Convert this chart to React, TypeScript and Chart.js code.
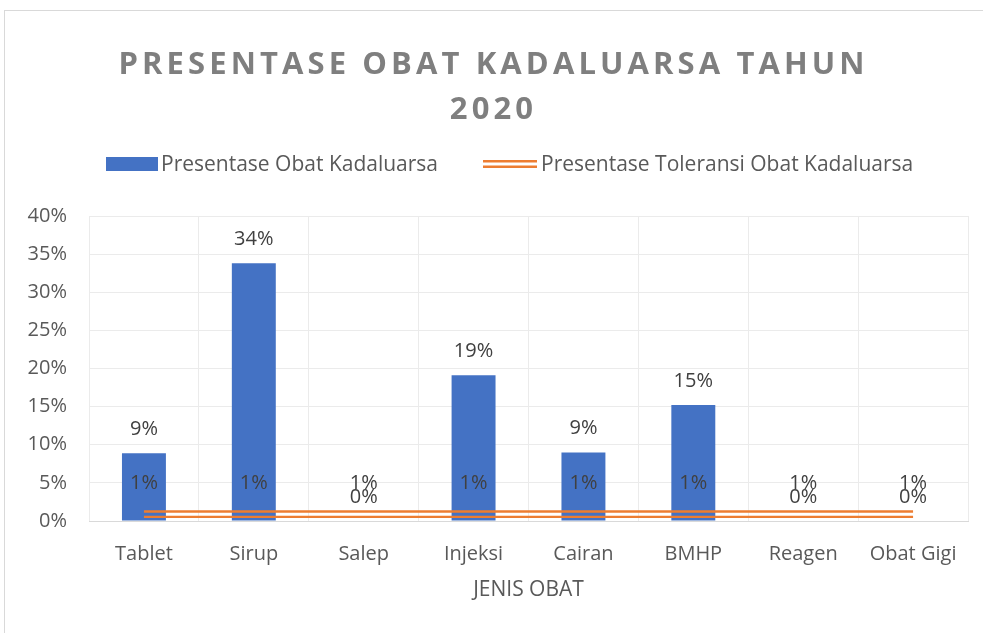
import React, { useEffect, useRef } from 'react';
import { Chart, registerables } from 'chart.js';

Chart.register(...registerables);

const TITLE_LINES = ['PRESENTASE OBAT KADALUARSA TAHUN', '2020'];
const CATEGORIES = ['Tablet', 'Sirup', 'Salep', 'Injeksi', 'Cairan', 'BMHP', 'Reagen', 'Obat Gigi'];
const EXPIRED_PCT = [8.9, 33.8, 0, 19.1, 9.0, 15.2, 0, 0];
const TOLERANCE_PCT = [0.9, 0.9, 0.9, 0.9, 0.9, 0.9, 0.9, 0.9];
const SERIES_NAMES = ['Presentase Obat Kadaluarsa', 'Presentase Toleransi Obat Kadaluarsa'];
const Y_TICKS = [0, 5, 10, 15, 20, 25, 30, 35, 40];
const X_AXIS_TITLE = 'JENIS OBAT';

const FONT = '"Open Sans", "Noto Sans", sans-serif';
const TEXT = '#595959';
const BLUE = '#4472c4';
const ORANGE = '#ed7d31';

const fmt = (v: number) => `${Math.round(v)}%`;

const doubleLinePlugin = {
  id: 'doubleLine',
  beforeDatasetDraw(chart: any, args: any) {
    const ds = chart.data.datasets[args.index];
    if (ds.lineOffset) {
      chart.ctx.save();
      chart.ctx.translate(0, ds.lineOffset);
    }
  },
  afterDatasetDraw(chart: any, args: any) {
    const ds = chart.data.datasets[args.index];
    if (ds.lineOffset) chart.ctx.restore();
  },
};

const labelsPlugin = {
  id: 'valueLabels',
  afterDatasetsDraw(chart: any) {
    const ctx = chart.ctx;
    ctx.save();
    ctx.font = `20px ${FONT}`;
    ctx.fillStyle = '#404040';
    ctx.textAlign = 'center';
    ctx.textBaseline = 'middle';
    chart.data.datasets.forEach((ds: any, i: number) => {
      if (!ds.showLabels) return;
      const meta = chart.getDatasetMeta(i);
      meta.data.forEach((el: any, j: number) => {
        const off = ds.type === 'bar' ? 24 : 31;
        ctx.fillText(fmt(ds.data[j]), el.x, el.y - off);
      });
    });
    ctx.restore();
  },
};

const headerPlugin = {
  id: 'header',
  beforeDraw(chart: any) {
    const ctx = chart.ctx;
    ctx.save();
    ctx.fillStyle = '#ffffff';
    ctx.fillRect(0, 0, chart.width, chart.height);
    ctx.strokeStyle = '#d9d9d9';
    ctx.lineWidth = 1;
    ctx.strokeRect(4.5, 10.5, 1200, 1200);
    ctx.restore();
  },
  afterDraw(chart: any) {
    const ctx = chart.ctx;
    ctx.save();
    // title
    ctx.font = `bold 31px ${FONT}`;
    (ctx as any).letterSpacing = '4.1px';
    ctx.fillStyle = '#7f7f7f';
    ctx.textAlign = 'center';
    ctx.textBaseline = 'middle';
    ctx.fillText(TITLE_LINES[0], 493.5, 65);
    ctx.fillText(TITLE_LINES[1], 493.5, 110);
    (ctx as any).letterSpacing = '0px';
    // legend
    ctx.font = `21px ${FONT}`;
    ctx.textAlign = 'left';
    const ly = 164;
    ctx.fillStyle = BLUE;
    ctx.fillRect(106, 157, 52, 14);
    ctx.fillStyle = TEXT;
    ctx.fillText(SERIES_NAMES[0], 161, ly + 1);
    ctx.strokeStyle = ORANGE;
    ctx.lineWidth = 2.5;
    ctx.beginPath();
    ctx.moveTo(483, ly - 2.7);
    ctx.lineTo(537, ly - 2.7);
    ctx.moveTo(483, ly + 2.7);
    ctx.lineTo(537, ly + 2.7);
    ctx.stroke();
    ctx.fillText(SERIES_NAMES[1], 541, ly + 1);
    ctx.restore();
  },
};

export default function App() {
  const ref = useRef<HTMLCanvasElement>(null);
  useEffect(() => {
    const chart = new Chart(ref.current as HTMLCanvasElement, {
      type: 'bar',
      data: {
        labels: CATEGORIES,
        datasets: [
          {
            type: 'line',
            label: SERIES_NAMES[1],
            data: TOLERANCE_PCT,
            borderColor: ORANGE,
            borderWidth: 2.4,
            pointRadius: 0,
            fill: false,
            order: 0,
            lineOffset: -2.7,
            showLabels: true,
          } as any,
          {
            type: 'line',
            label: SERIES_NAMES[1] + ' ',
            data: TOLERANCE_PCT,
            borderColor: ORANGE,
            borderWidth: 2.4,
            pointRadius: 0,
            fill: false,
            order: 1,
            lineOffset: 2.7,
          } as any,
          {
            type: 'bar',
            label: SERIES_NAMES[0],
            data: EXPIRED_PCT,
            backgroundColor: BLUE,
            borderWidth: 0,
            barPercentage: 0.4,
            categoryPercentage: 1,
            order: 2,
            showLabels: true,
          } as any,
        ],
      },
      options: {
        animation: false,
        responsive: false,
        devicePixelRatio: 1,
        layout: { padding: { top: 216, left: 0, right: 15, bottom: 0 } },
        plugins: {
          legend: { display: false },
          title: { display: false },
          tooltip: { enabled: false },
        },
        scales: {
          x: {
            offset: true,
            grid: { color: '#ebebeb', offset: true, drawTicks: false, lineWidth: 1 },
            border: { color: '#d9d9d9' },
            ticks: { color: TEXT, font: { family: FONT, size: 20 }, padding: 21 },
            title: {
              display: true,
              text: X_AXIS_TITLE,
              color: TEXT,
              font: { family: FONT, size: 21 },
              padding: { top: 0, bottom: 30 },
            },
            afterFit: (s: any) => { s.height = 112; },
          },
          y: {
            min: Y_TICKS[0],
            max: Y_TICKS[Y_TICKS.length - 1],
            afterBuildTicks: (s: any) => { s.ticks = Y_TICKS.map((v) => ({ value: v })); },
            grid: {
              color: (c: any) => (c.tick && c.tick.value === 0 ? '#d9d9d9' : '#ebebeb'),
              drawTicks: false,
            },
            border: { display: false },
            ticks: {
              color: TEXT,
              font: { family: FONT, size: 20 },
              padding: 22,
              callback: (v: any) => `${v}%`,
            },
            afterFit: (s: any) => { s.width = 89; },
          },
        },
      } as any,
      plugins: [doubleLinePlugin, labelsPlugin, headerPlugin],
    });
    return () => chart.destroy();
  }, []);
  return (
    <div style={{ position: 'fixed', left: 0, top: 0, width: 983, height: 633, overflow: 'hidden', background: '#fff' }}>
      <canvas ref={ref} width={983} height={633} style={{ display: 'block', width: 983, height: 633 }} />
    </div>
  );
}
